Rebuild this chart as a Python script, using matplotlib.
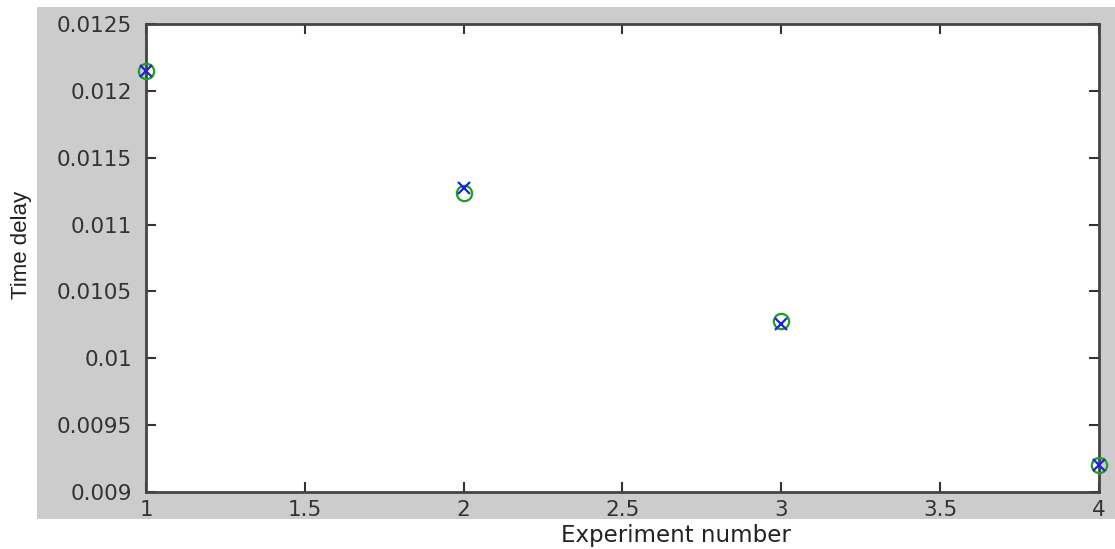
import matplotlib.pyplot as plt
from matplotlib.patches import Rectangle

# experiment data
experiments = [1, 2, 3, 4]
delay_measured = [0.01215, 0.011237, 0.01028, 0.0092]
delay_model = [0.01215, 0.011274, 0.010258, 0.0092]

xticks = [1, 1.5, 2, 2.5, 3, 3.5, 4]
xtick_labels = ["1", "1.5", "2", "2.5", "3", "3.5", "4"]
yticks = [0.009, 0.0095, 0.01, 0.0105, 0.011, 0.0115, 0.012, 0.0125]
ytick_labels = ["0.009", "0.0095", "0.01", "0.0105", "0.011", "0.0115", "0.012", "0.0125"]

plt.rcParams["font.family"] = ["DejaVu Sans"]

fig = plt.figure(figsize=(11.15, 5.49), dpi=100)
fig.patch.set_facecolor("white")
# grey matlab-style figure area, kept behind the axes
fig.patches.append(Rectangle((37 / 1115, 30 / 549), 1.0, 512 / 549,
                             transform=fig.transFigure, facecolor="#cccccc",
                             edgecolor="none", zorder=-10))

ax = fig.add_axes([146 / 1115, 57 / 549, 953 / 1115, 468 / 549])
ax.set_facecolor("white")

ax.plot(experiments, delay_measured, linestyle="none", marker="o", markersize=11,
        markerfacecolor="none", markeredgecolor="#1aa31a", markeredgewidth=1.6,
        clip_on=False, zorder=3)
ax.plot(experiments, delay_model, linestyle="none", marker="x", markersize=8,
        color="#2020e0", markeredgewidth=1.6, clip_on=False, zorder=4)

ax.set_xlim(1, 4)
ax.set_ylim(0.009, 0.0125)
ax.set_xticks(xticks)
ax.set_xticklabels(xtick_labels)
ax.set_yticks(yticks)
ax.set_yticklabels(ytick_labels)
ax.tick_params(direction="in", top=True, right=True, length=7, width=1.5,
               color="#333333", labelsize=15.5, labelcolor="#333333")
ax.tick_params(axis="y", pad=10)
ax.tick_params(axis="x", pad=6)

for s in ax.spines.values():
    s.set_color("#444444")
    s.set_linewidth(2)

ax.set_xlabel("Experiment number", fontsize=16.5, color="#222222", va="center")
ax.xaxis.set_label_coords(0.556, -0.093)
ax.set_ylabel("Time delay", fontsize=16, color="#222222", va="center",
              fontfamily="Liberation Sans",
              bbox=dict(facecolor="white", edgecolor="none", pad=3))
ax.yaxis.set_label_coords(-0.131, 0.528)

fig.savefig("out.png", dpi=100)
